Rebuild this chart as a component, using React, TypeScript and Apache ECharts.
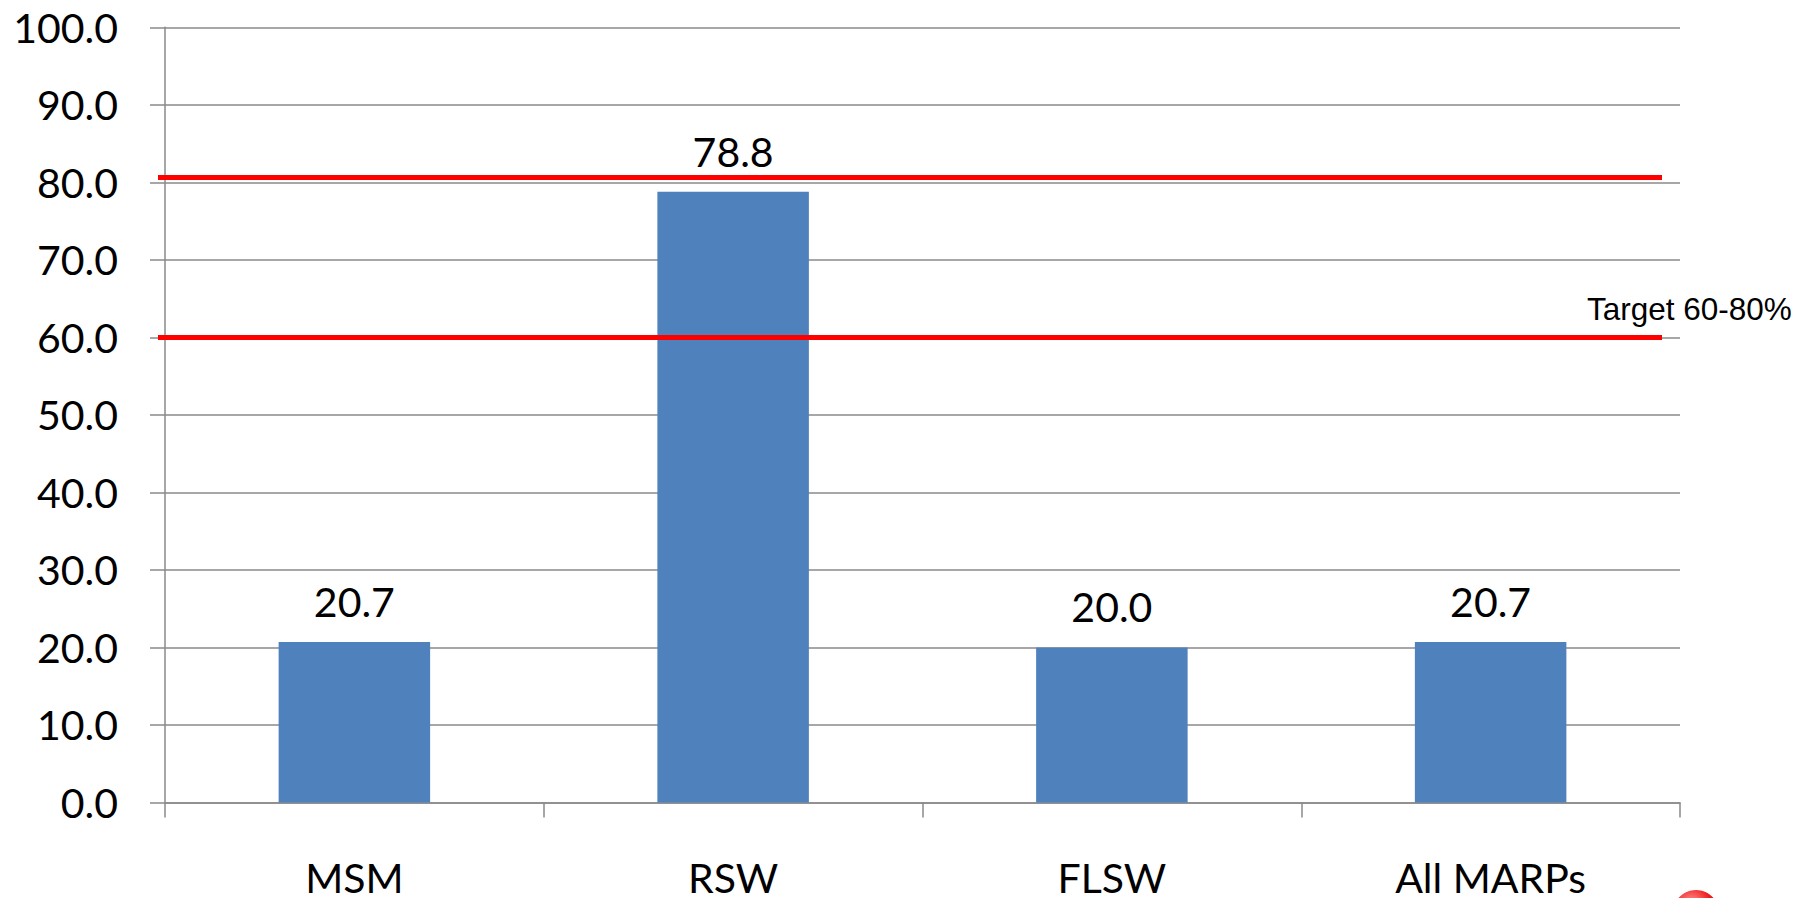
import React, { useEffect, useRef } from "react";
import * as echarts from "echarts";

const categories = ["MSM", "RSW", "FLSW", "All MARPs"];
const values = [20.7, 78.8, 20.0, 20.7];
const targetLines = [60, 80.7];
const targetLabel = "Target 60-80%";
const yMin = 0;
const yMax = 100;
const yInterval = 10;

export default function App() {
  const ref = useRef<HTMLDivElement>(null);
  useEffect(() => {
    if (!ref.current) return;
    const chart = echarts.init(ref.current, undefined, { renderer: "svg" });
    const gray = "#8a8a8a";
    const font = "Lato, 'Open Sans', sans-serif";
    chart.setOption({
      animation: false,
      backgroundColor: "#ffffff",
      grid: { left: 165, right: 121, top: 27.3, bottom: 95.5, containLabel: false },
      xAxis: {
        type: "category",
        data: categories,
        axisLine: { show: true, lineStyle: { color: gray, width: 1.5 } },
        axisTick: { show: true, length: 15, lineStyle: { color: gray, width: 1.5 } },
        axisLabel: { color: "#000", fontFamily: font, fontSize: 41, lineHeight: 41, margin: 54 },
        splitLine: { show: false },
      },
      yAxis: {
        type: "value",
        min: yMin,
        max: yMax,
        interval: yInterval,
        axisLine: { show: true, lineStyle: { color: gray, width: 1.5 } },
        axisTick: { show: true, length: 15, lineStyle: { color: gray, width: 1.5 } },
        axisLabel: {
          color: "#000",
          fontFamily: font,
          fontSize: 41,
          margin: 47,
          formatter: (v: number) => v.toFixed(1),
        },
        splitLine: { show: true, lineStyle: { color: gray, width: 1.5 } },
      },
      series: [
        {
          type: "bar",
          data: values,
          barWidth: "40%",
          itemStyle: { color: "#4F81BD" },
          label: {
            show: true,
            position: "top",
            distance: 20,
            color: "#000",
            fontFamily: font,
            fontSize: 41,
            formatter: (p: any) => Number(p.value).toFixed(1),
          },
          markLine: {
            silent: true,
            symbol: "none",
            label: { show: false },
            lineStyle: { color: "#ff0000", width: 5, type: "solid" },
            data: targetLines.map((t) => [
              { x: 158, yAxis: t },
              { x: 1662, yAxis: t },
            ]),
          },
        },
      ],
      graphic: [
        {
          type: "text",
          x: 1587,
          y: 309.1,
          style: {
            text: targetLabel,
            font: "31.5px 'Liberation Sans', Arial, sans-serif",
            fill: "#000",
            align: "left",
            verticalAlign: "middle",
          },
        },
        {
          type: "circle",
          shape: { cx: 1696, cy: 913, r: 23 },
          style: {
            fill: new echarts.graphic.RadialGradient(0.4, 0.3, 0.8, [
              { offset: 0, color: "#ff9a9a" },
              { offset: 0.5, color: "#f02020" },
              { offset: 1, color: "#b00000" },
            ]),
          },
        },
      ],
    });
    return () => chart.dispose();
  }, []);
  return <div ref={ref} style={{ width: 1801, height: 898, position: "absolute", left: 0, top: 0 }} />;
}
